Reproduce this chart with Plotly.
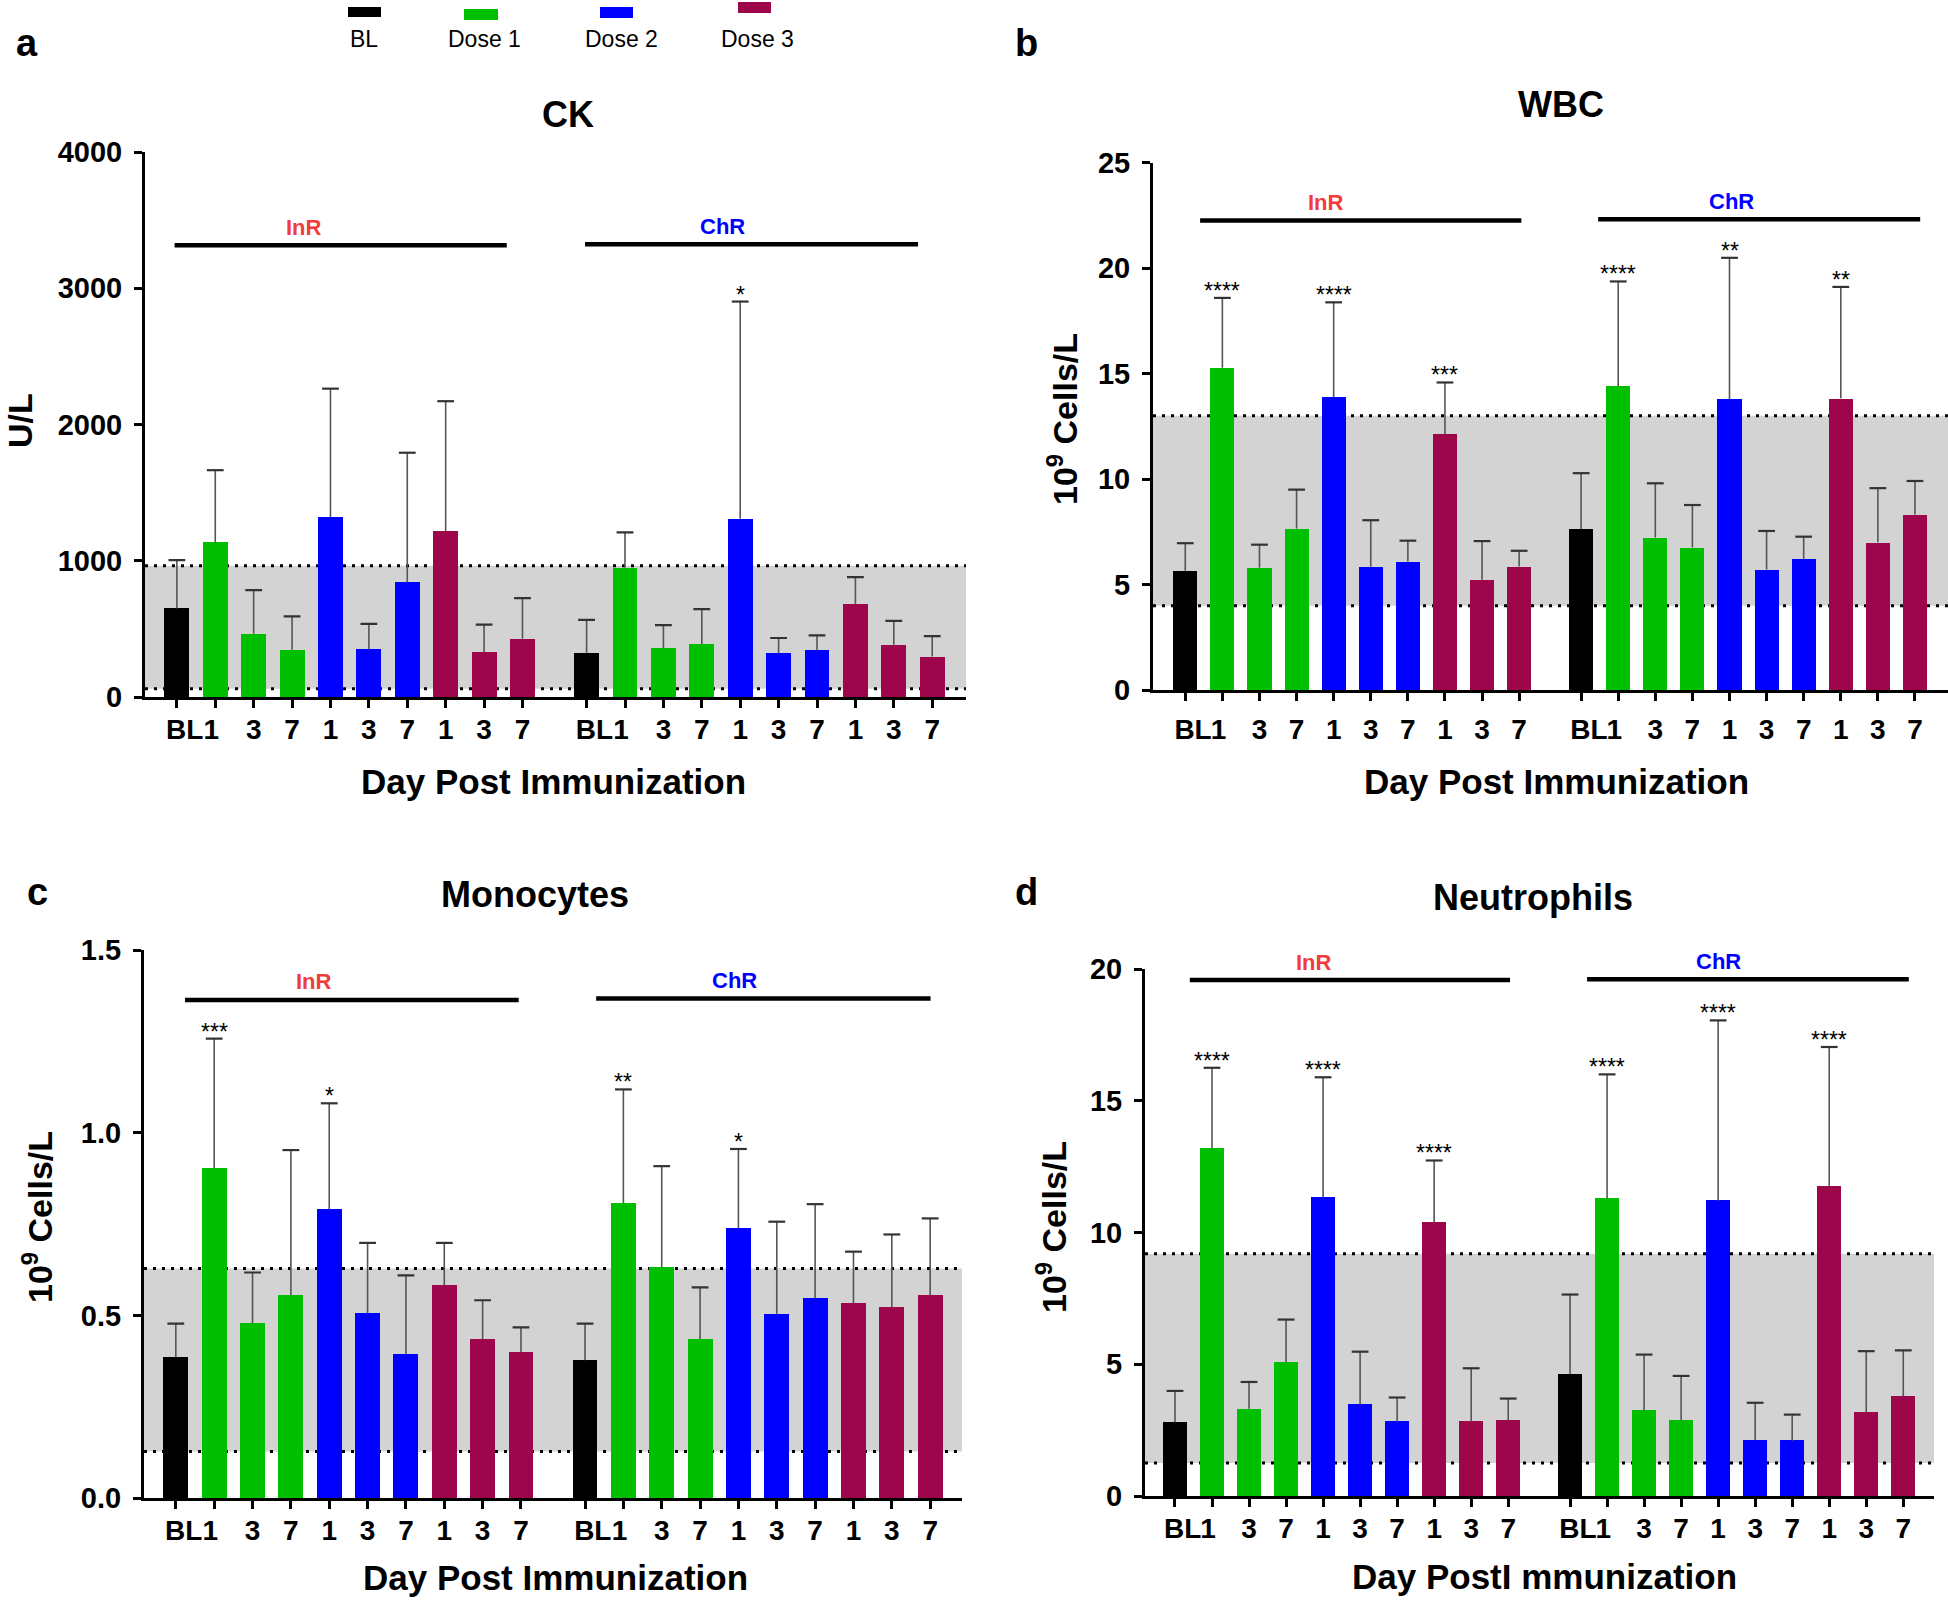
import plotly.graph_objects as go

W, H = 1948, 1603

# ---------------- data ----------------
day_labels = ["\u00a0\u00a0BL", "1\u00a0", "3", "7", "1", "3", "7", "1", "3", "7"]
dose_group = ["BL", "Dose 1", "Dose 1", "Dose 1", "Dose 2", "Dose 2", "Dose 2",
              "Dose 3", "Dose 3", "Dose 3"]
regimens = ["InR", "ChR"]
legend_items = ["BL", "Dose 1", "Dose 2", "Dose 3"]

ck_inr = [652, 1136, 467, 348, 1321, 353, 843, 1220, 332, 429]
ck_inr_sd = [354, 530, 319, 245, 943, 185, 951, 952, 201, 299]
ck_chr = [326, 951, 359, 389, 1310, 323, 345, 685, 386, 299]
ck_chr_sd = [242, 259, 171, 258, 1593, 112, 109, 196, 174, 150]
ck_sig_inr = ["", "", "", "", "", "", "", "", "", ""]
ck_sig_chr = ["", "", "", "", "*", "", "", "", "", ""]
ck_ref = [63, 965]

wbc_inr = [5.65, 15.28, 5.80, 7.65, 13.89, 5.84, 6.09, 12.14, 5.23, 5.86]
wbc_inr_sd = [1.31, 3.31, 1.09, 1.85, 4.49, 2.21, 0.99, 2.44, 1.83, 0.74]
wbc_chr = [7.63, 14.41, 7.23, 6.76, 13.80, 5.71, 6.22, 13.83, 7.00, 8.32]
wbc_chr_sd = [2.65, 4.96, 2.57, 2.01, 6.69, 1.83, 1.05, 5.28, 2.57, 1.59]
wbc_sig_inr = ["", "****", "", "", "****", "", "", "***", "", ""]
wbc_sig_chr = ["", "****", "", "", "**", "", "", "**", "", ""]
wbc_ref = [4.0, 13.0]

mono_inr = [0.386, 0.904, 0.479, 0.556, 0.791, 0.506, 0.394, 0.583, 0.435, 0.400]
mono_inr_sd = [0.092, 0.354, 0.139, 0.397, 0.290, 0.193, 0.216, 0.116, 0.107, 0.068]
mono_chr = [0.378, 0.808, 0.632, 0.436, 0.740, 0.504, 0.548, 0.534, 0.522, 0.556]
mono_chr_sd = [0.100, 0.311, 0.277, 0.141, 0.216, 0.253, 0.257, 0.141, 0.200, 0.210]
mono_sig_inr = ["", "***", "", "", "*", "", "", "", "", ""]
mono_sig_chr = ["", "**", "", "", "*", "", "", "", "", ""]
mono_ref = [0.128, 0.629]

neut_inr = [2.80, 13.19, 3.31, 5.07, 11.34, 3.47, 2.82, 10.39, 2.82, 2.86]
neut_inr_sd = [1.19, 3.07, 1.02, 1.63, 4.56, 2.01, 0.92, 2.35, 2.03, 0.84]
neut_chr = [4.62, 11.30, 3.25, 2.88, 11.21, 2.12, 2.10, 11.75, 3.18, 3.79]
neut_chr_sd = [3.03, 4.71, 2.12, 1.68, 6.85, 1.42, 0.99, 5.30, 2.32, 1.74]
neut_sig_inr = ["", "****", "", "", "****", "", "", "****", "", ""]
neut_sig_chr = ["", "****", "", "", "****", "", "", "****", "", ""]
neut_ref = [1.25, 9.2]

colors = {"BL": "#000000", "Dose 1": "#00bf00", "Dose 2": "#0000ff", "Dose 3": "#9e064c"}
FONT = "Liberation Sans, Arial, Helvetica, sans-serif"
CHR_OFFSET = 10.67

panels = [
    dict(letter="a", title="CK", ytitle="U/L",
         inr=ck_inr, inr_sd=ck_inr_sd, chr=ck_chr, chr_sd=ck_chr_sd,
         sig_inr=ck_sig_inr, sig_chr=ck_sig_chr, ref=ck_ref,
         yr=[0, 4000], dtick=1000, fmt="d", xstand=-3,
         px=(145, 966), py=(152, 697.3), xr=[-0.83, 20.55],
         bars=dict(InR=(-0.06, 8.59, 3316), ChR=(10.63, 19.30, 3324)),
         labs=dict(InR=3.31, ChR=14.2),
         title_xy=(568, 114), xt_xy=(553, 782), yt_xy=(20, 421), let_xy=(27, 43),
         xtitle="Day Post Immunization"),
    dict(letter="b", title="WBC", ytitle="10<sup>9</sup> Cells/L",
         inr=wbc_inr, inr_sd=wbc_inr_sd, chr=wbc_chr, chr_sd=wbc_chr_sd,
         sig_inr=wbc_sig_inr, sig_chr=wbc_sig_chr, ref=wbc_ref,
         yr=[0, 25], dtick=5, fmt="d", xstand=4,
         px=(1153, 1948), py=(162.7, 690), xr=[-0.87, 20.56],
         bars=dict(InR=(0.40, 9.06, 22.26), ChR=(11.13, 19.81, 22.32)),
         labs=dict(InR=3.78, ChR=14.73),
         title_xy=(1561, 104), xt_xy=(1556, 782), yt_xy=(1062, 419), let_xy=(1026, 43),
         xtitle="Day Post Immunization"),
    dict(letter="c", title="Monocytes", ytitle="10<sup>9</sup> Cells/L",
         inr=mono_inr, inr_sd=mono_inr_sd, chr=mono_chr, chr_sd=mono_chr_sd,
         sig_inr=mono_sig_inr, sig_chr=mono_sig_chr, ref=mono_ref,
         yr=[0, 1.5], dtick=0.5, fmt=".1f", xstand=-3,
         px=(144, 962), py=(950.2, 1498.3), xr=[-0.83, 20.5],
         bars=dict(InR=(0.24, 8.94, 1.364), ChR=(10.96, 19.68, 1.368)),
         labs=dict(InR=3.60, ChR=14.56),
         title_xy=(535, 894), xt_xy=(555, 1577), yt_xy=(37, 1217), let_xy=(37, 892),
         xtitle="Day Post Immunization"),
    dict(letter="d", title="Neutrophils", ytitle="10<sup>9</sup> Cells/L",
         inr=neut_inr, inr_sd=neut_inr_sd, chr=neut_chr, chr_sd=neut_chr_sd,
         sig_inr=neut_sig_inr, sig_chr=neut_sig_chr, ref=neut_ref,
         yr=[0, 20], dtick=5, fmt="d", xstand=-3,
         px=(1145, 1934), py=(969.3, 1496), xr=[-0.81, 20.5],
         bars=dict(InR=(0.40, 9.05, 19.59), ChR=(11.13, 19.82, 19.62)),
         labs=dict(InR=3.76, ChR=14.69),
         title_xy=(1533, 897), xt_xy=(1544, 1576), yt_xy=(1051, 1227), let_xy=(1026, 892),
         xtitle="Day PostI mmunization"),
]

fig = go.Figure()
shapes = []
annotations = []


def px2x(v):
    return v / W


def py2y(v):
    return 1 - v / H


for k, p in enumerate(panels):
    sfx = "" if k == 0 else str(k + 1)
    xa, ya = "x" + sfx, "y" + sfx
    pos = [i for i in range(10)] + [i + CHR_OFFSET for i in range(10)]
    vals = p["inr"] + p["chr"]
    sds = p["inr_sd"] + p["chr_sd"]
    sigs = p["sig_inr"] + p["sig_chr"]
    cols = [colors[g] for g in dose_group] * 2
    ticktext = day_labels * 2

    fig.add_trace(go.Bar(
        x=pos, y=vals, width=0.65, marker=dict(color=cols, line=dict(width=0)),
        xaxis=xa, yaxis=ya, showlegend=False, hoverinfo="y"))
    tops = [v + s for v, s in zip(vals, sds)]
    fig.add_trace(go.Scatter(
        x=pos, y=tops, mode="markers", xaxis=xa, yaxis=ya, showlegend=False,
        marker=dict(symbol="line-ew", size=12, line=dict(width=2.2, color="#333333")),
        error_y=dict(type="data", symmetric=False, array=[0] * 20, arrayminus=sds,
                     width=0, thickness=1.6, color="#555555"),
        hoverinfo="skip"))

    xdom = [px2x(p["px"][0]), px2x(p["px"][1])]
    ydom = [py2y(p["py"][1]), py2y(p["py"][0])]
    fig.update_layout(**{
        "xaxis" + sfx: dict(
            domain=xdom, range=p["xr"], tickmode="array", tickvals=pos, ticktext=ticktext,
            tickangle=0, automargin=False,
            showline=True, linecolor="black", linewidth=3, ticks="outside", ticklen=8,
            tickwidth=2.5, tickcolor="black", showgrid=False, zeroline=False,
            tickfont=dict(family=FONT, size=28, color="black", weight="bold"),
            ticklabelstandoff=p["xstand"], anchor=ya, fixedrange=True),
        "yaxis" + sfx: dict(
            domain=ydom, range=p["yr"], tickmode="linear", tick0=0, dtick=p["dtick"],
            tickformat=p["fmt"], automargin=False,
            showline=True, linecolor="black", linewidth=3,
            ticks="outside", ticklen=8, tickwidth=2.5, tickcolor="black",
            showgrid=False, zeroline=False,
            tickfont=dict(family=FONT, size=29, color="black", weight="bold"),
            ticklabelstandoff=6, anchor=xa, fixedrange=True),
    })

    # reference band
    lo, hi = p["ref"]
    shapes.append(dict(type="rect", xref=xa + " domain", yref=ya, x0=0, x1=1, y0=lo, y1=hi,
                       fillcolor="#d3d3d3", line=dict(width=0), layer="below"))
    for yy in (lo, hi):
        shapes.append(dict(type="line", xref=xa + " domain", yref=ya, x0=0, x1=1, y0=yy, y1=yy,
                           line=dict(color="black", width=3, dash="3px,6px"), layer="below"))

    # regimen bars and labels
    for reg, col in zip(regimens, ["#f23c3c", "#0000ff"]):
        x0, x1, yy = p["bars"][reg]
        shapes.append(dict(type="line", xref=xa, yref=ya, x0=x0, x1=x1, y0=yy, y1=yy,
                           line=dict(color="black", width=4.5)))
        annotations.append(dict(xref=xa, yref=ya, x=p["labs"][reg], y=yy, text=reg,
                                showarrow=False, xanchor="center", yanchor="middle", yshift=18,
                                font=dict(family=FONT, size=22, color=col, weight="bold")))

    # significance stars
    for xx, tt, s in zip(pos, tops, sigs):
        if s:
            annotations.append(dict(xref=xa, yref=ya, x=xx, y=tt, text=s, showarrow=False,
                                    xanchor="center", yanchor="bottom", yshift=-8,
                                    font=dict(family=FONT, size=23, color="black")))

    # titles
    tx, ty = p["title_xy"]
    annotations.append(dict(xref="paper", yref="paper", x=px2x(tx), y=py2y(ty), text=p["title"],
                            showarrow=False, xanchor="center", yanchor="middle",
                            font=dict(family=FONT, size=36, color="black", weight="bold")))
    tx, ty = p["xt_xy"]
    annotations.append(dict(xref="paper", yref="paper", x=px2x(tx), y=py2y(ty), text=p["xtitle"],
                            showarrow=False, xanchor="center", yanchor="middle",
                            font=dict(family=FONT, size=35, color="black", weight="bold")))
    tx, ty = p["yt_xy"]
    annotations.append(dict(xref="paper", yref="paper", x=px2x(tx), y=py2y(ty), text=p["ytitle"],
                            showarrow=False, xanchor="center", yanchor="middle", textangle=-90,
                            font=dict(family=FONT, size=34, color="black", weight="bold")))
    tx, ty = p["let_xy"]
    annotations.append(dict(xref="paper", yref="paper", x=px2x(tx), y=py2y(ty), text=p["letter"],
                            showarrow=False, xanchor="center", yanchor="middle",
                            font=dict(family=FONT, size=38, color="black", weight="bold")))

# legend (drawn as swatches + labels)
leg_rects = [(348, 381, 7, 17), (464, 498, 9, 20), (600, 633, 7, 18), (738, 771, 2, 13)]
leg_text_x = [364, 484, 621, 757]
for name, (x0, x1, y0, y1), lx in zip(legend_items, leg_rects, leg_text_x):
    shapes.append(dict(type="rect", xref="paper", yref="paper", x0=px2x(x0), x1=px2x(x1),
                       y0=py2y(y1), y1=py2y(y0), fillcolor=colors[name], line=dict(width=0)))
    annotations.append(dict(xref="paper", yref="paper", x=px2x(lx), y=py2y(39), text=name,
                            showarrow=False, xanchor="center", yanchor="middle",
                            font=dict(family=FONT, size=23, color="black")))

fig.update_layout(
    width=W, height=H, margin=dict(l=0, r=0, t=0, b=0, pad=0, autoexpand=False),
    paper_bgcolor="white", plot_bgcolor="white",
    shapes=shapes, annotations=annotations, showlegend=False, bargap=0,
    font=dict(family=FONT, color="black"),
)

post = ("var d=document.getElementById('{plot_id}');"
        "d.style.position='fixed';d.style.left='0px';d.style.top='0px';"
        "document.body.style.margin='0';"
        "document.documentElement.style.overflow='hidden';"
        "document.body.style.overflow='hidden';")
fig.write_html("out.html", post_script=post, config={"displayModeBar": False})
